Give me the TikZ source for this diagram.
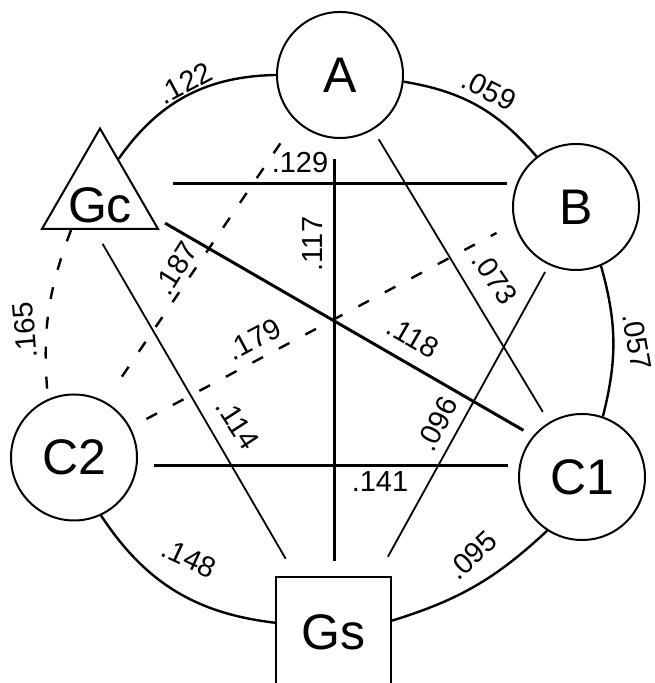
\documentclass[tikz,border=0pt]{standalone}
\usepackage{fontspec}
\setmainfont{Liberation Sans}
\usetikzlibrary{shapes.geometric}
\begin{document}
\begin{tikzpicture}[x=0.5pt,y=0.5pt]
		\tikzset{vertex/.style = {shape=circle,draw,line width=1pt,minimum size=63pt,inner sep=0pt,font=\fontsize{25}{30}\selectfont}}
		\tikzset{tri/.style = {shape=regular polygon,regular polygon sides=3,draw,line width=1pt,minimum size=67pt,inner sep=0pt}}
		\tikzset{box/.style = {shape=rectangle,draw,line width=1pt,minimum width=57.5pt,minimum height=55pt,inner sep=0pt,font=\fontsize{25}{30}\selectfont}}
		\tikzset{weight/.style = {inner sep=0pt,font=\fontsize{14.5}{17}\selectfont}}
		\tikzset{edge/.style = {draw,line width=1.2pt}}
		\tikzset{thinedge/.style = {draw,line width=0.9pt}}
		\tikzset{thickedge/.style = {draw,line width=1.5pt}}
		\tikzset{optional/.style = {edge,dash pattern=on 6pt off 9pt}}
		\useasboundingbox (0,0) rectangle (654,683);
		\node[vertex] (A) at (340,608) {A};
		\node[vertex] (B) at (576,476) {B};
		\node[tri,label={[font=\fontsize{25}{30}\selectfont,yshift=-5pt]center:Gc}] (Gc) at (100,487.5) {};
		\node[vertex] (C2) at (74,225.5) {C2};
		\node[vertex] (C1) at (582,206) {C1};
		\node[box] (Gs) at (333.5,51) {Gs};
		% outer ring
		\path[edge, bend right=27] (A.180) edge (Gc.63);
		\path[edge, bend left=20] (A.-6) edge (B.128);
		\path[edge, bend left=15] (B.-67) edge (C1.71);
		\path[edge, bend left=13] (C1.237) edge (Gs.11);
		\path[edge, bend right=25] (C2.-65) edge (Gs.171);
		\path[optional, bend right=13] (Gc.230) edge (C2.114);
		% inner lines
		\path[thickedge, shorten <=18.8pt, shorten >=4.8pt] (Gc.12 |- B.158) edge (B.158);
		\path[edge, shorten <=10pt, shorten >=7.5pt] (A.265) edge (A.265 |- Gs.north);
		\path[thinedge, shorten <=5.5pt, shorten >=6pt] (A) edge (C1);
		\path[thinedge, shorten <=4pt, shorten >=11pt] (B.245) edge (Gs.52);
		\path[thickedge, shorten <=8pt, shorten >=5.5pt] (Gc.-21) edge (C1.140);
		\path[thickedge, shorten <=8pt, shorten >=5.5pt] (C2.east |- C1.170) edge (C1.170);
		\path[thinedge, shorten <=8pt, shorten >=10pt] (Gc.261) edge (Gs.124);
		\path[optional, shorten <=13.5pt, shorten >=13.5pt] (A.226) edge (C2.61);
		\path[optional, shorten <=9pt, shorten >=10pt] (C2.28) edge (B.195);
		% weights
		\node[weight, rotate=28] (w122) at (185,600) {.122};
		\node[weight, rotate=-27] (w059) at (489,593) {.059};
		\node[weight, rotate=-80] (w057) at (637,341) {.057};
		\node[weight, rotate=43] (w095) at (472,128) {.095};
		\node[weight, rotate=-25] (w148) at (189,125) {.148};
		\node[weight, rotate=95] (w165) at (25,353) {.165};
		\node[weight] (w129) at (300,520) {.129};
		\node[weight, rotate=90] (w117) at (313,439) {.117};
		\node[weight, rotate=-56] (w073) at (495,405) {.073};
		\node[weight, rotate=63] (w096) at (437,259) {.096};
		\node[weight, rotate=-30] (w118) at (413,346) {.118};
		\node[weight] (w141) at (380,201) {.141};
		\node[weight, rotate=-57] (w114) at (238,259) {.114};
		\node[weight, rotate=58] (w187) at (176,415) {.187};
		\node[weight, rotate=28] (w179) at (254,344) {.179};
	\end{tikzpicture}
\end{document}
